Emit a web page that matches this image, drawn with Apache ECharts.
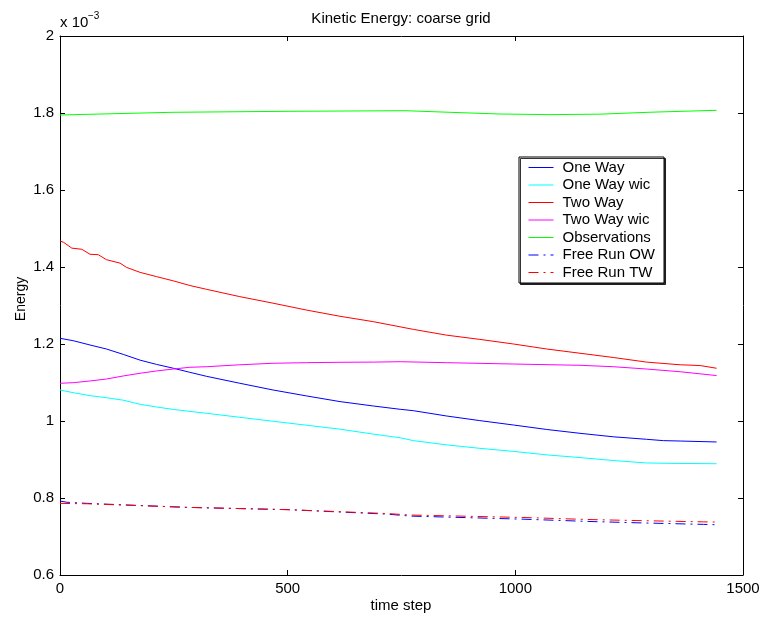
<!DOCTYPE html>
<html>
<head>
<meta charset="utf-8">
<script src="https://cdn.jsdelivr.net/npm/echarts@6/dist/echarts.min.js"></script>
<style>
html,body{margin:0;padding:0;background:#fff;}
#c{width:763px;height:618px;}
</style>
</head>
<body>
<div id="c"></div>
<script>
// Values in units of 1e-3 (as shown by the "x 10^-3" axis multiplier)
var xTicks = [0, 500, 1000, 1500];
var yTicks = [0.6, 0.8, 1, 1.2, 1.4, 1.6, 1.8, 2];

var oneWayT = [0, 29, 66, 102, 139, 176, 212, 249, 285, 322, 395, 468, 542, 615, 688, 747, 776, 849, 922, 996, 1069, 1142, 1215, 1288, 1325, 1362, 1442];
var oneWayV = [1.2148, 1.2086, 1.1974, 1.187, 1.173, 1.158, 1.147, 1.137, 1.1265, 1.116, 1.098, 1.0805, 1.065, 1.0504, 1.039, 1.0304, 1.0268, 1.013, 1.001, 0.9896, 0.978, 0.968, 0.959, 0.9525, 0.949, 0.948, 0.9455];

var oneWayWicT = [0, 29, 66, 102, 139, 176, 212, 249, 322, 395, 468, 542, 615, 688, 747, 776, 849, 922, 996, 1069, 1142, 1215, 1288, 1340, 1442];
var oneWayWicV = [1.0805, 1.0736, 1.0658, 1.0605, 1.054, 1.0434, 1.0364, 1.030, 1.020, 1.0096, 0.9993, 0.989, 0.9787, 0.966, 0.9565, 0.949, 0.938, 0.929, 0.921, 0.912, 0.905, 0.8974, 0.891, 0.890, 0.889];

var twoWayT = [0, 8, 26, 48, 66, 84, 102, 132, 146, 176, 212, 249, 285, 322, 395, 468, 542, 615, 688, 776, 849, 922, 996, 1069, 1142, 1215, 1288, 1362, 1406, 1442];
var twoWayV = [1.4675, 1.464, 1.449, 1.446, 1.433, 1.432, 1.419, 1.41, 1.399, 1.386, 1.375, 1.364, 1.352, 1.342, 1.323, 1.306, 1.288, 1.272, 1.258, 1.238, 1.223, 1.212, 1.2, 1.187, 1.176, 1.165, 1.153, 1.146, 1.144, 1.137];

var twoWayWicT = [0, 29, 66, 102, 139, 176, 212, 249, 285, 322, 395, 468, 542, 615, 688, 747, 849, 996, 1142, 1215, 1288, 1362, 1442];
var twoWayWicV = [1.098, 1.0995, 1.104, 1.109, 1.117, 1.124, 1.130, 1.135, 1.1395, 1.141, 1.146, 1.150, 1.1515, 1.1525, 1.153, 1.154, 1.1515, 1.148, 1.1447, 1.141, 1.135, 1.128, 1.118];

var obsT = [0, 246, 501, 758, 856, 966, 1076, 1186, 1296, 1442];
var obsV = [1.7948, 1.8018, 1.8044, 1.806, 1.8018, 1.7974, 1.7957, 1.797, 1.802, 1.807];

var freeOWT = [0, 15, 60, 281, 501, 720, 769, 1017, 1164, 1267, 1413, 1442];
var freeOWV = [0.792, 0.789, 0.786, 0.7756, 0.7697, 0.758, 0.753, 0.745, 0.739, 0.7356, 0.7315, 0.7305];

var freeTWT = [0, 60, 281, 501, 720, 769, 1017, 1164, 1267, 1413, 1442];
var freeTWV = [0.786, 0.785, 0.7756, 0.7697, 0.7595, 0.7558, 0.7494, 0.744, 0.7414, 0.738, 0.7375];

function pairs(t, v) { return t.map(function (x, i) { return [x, v[i]]; }); }

var FONT = 'Liberation Sans, Arial, Helvetica, sans-serif';
var dashDot = [10, 5, 2, 5];

function mk(name, t, v, color, dash) {
  return {
    name: name, type: 'line', data: pairs(t, v), showSymbol: false, symbol: 'none',
    xAxisIndex: 0, yAxisIndex: 0,
    lineStyle: { color: color, width: 1, type: dash || 'solid' },
    itemStyle: { color: color },
    emphasis: { disabled: true }, animation: false
  };
}

var chart = echarts.init(document.getElementById('c'), null, { renderer: 'canvas' });

function axisCommon() {
  return {
    axisLine: { show: true, onZero: false, lineStyle: { color: '#000', width: 1 } },
    axisTick: { show: true, inside: true, length: 5, lineStyle: { color: '#000' } },
    splitLine: { show: false }
  };
}

chart.setOption({
  animation: false,
  backgroundColor: '#fff',
  textStyle: { fontFamily: FONT },
  grid: { left: 60, right: 20, top: 36, bottom: 43, containLabel: false },
  xAxis: [
    Object.assign({ type: 'value', min: xTicks[0], max: xTicks[xTicks.length - 1], interval: 500, position: 'bottom',
      axisLabel: { color: '#000', fontSize: 15, fontFamily: FONT, margin: 6,
        formatter: function (v) { return String(v); } } }, axisCommon()),
    Object.assign({ type: 'value', min: xTicks[0], max: xTicks[xTicks.length - 1], interval: 500, position: 'top',
      axisLabel: { show: false } }, axisCommon())
  ],
  yAxis: [
    Object.assign({ type: 'value', min: yTicks[0], max: yTicks[yTicks.length - 1], interval: 0.2, position: 'left',
      axisLabel: { color: '#000', fontSize: 15, fontFamily: FONT, margin: 6,
        formatter: function (v) { return String(Math.round(v * 10) / 10); } } }, axisCommon()),
    Object.assign({ type: 'value', min: yTicks[0], max: yTicks[yTicks.length - 1], interval: 0.2, position: 'right',
      axisLabel: { show: false } }, axisCommon())
  ],
  legend: {
    orient: 'vertical', left: 519, top: 157,
    padding: [3, 9, 3, 9],
    itemWidth: 25, itemHeight: 8, itemGap: 2.5,
    itemStyle: { opacity: 0 },
    lineStyle: { width: 1 },
    backgroundColor: '#fff', borderColor: '#000', borderWidth: 1,
    shadowColor: 'rgba(0,0,0,0.8)', shadowOffsetX: 1.5, shadowOffsetY: 1.5, shadowBlur: 0,
    textStyle: { color: '#000', fontSize: 15, fontFamily: FONT, lineHeight: 15, padding: [0, 0, 0, 4] },
    selectedMode: false,
    data: ['One Way', 'One Way wic', 'Two Way', 'Two Way wic', 'Observations', 'Free Run OW', 'Free Run TW']
  },
  graphic: [
    { type: 'text', x: 401, y: 19, style: { text: 'Kinetic Energy: coarse grid', font: '15px ' + FONT, fill: '#000', align: 'center', verticalAlign: 'middle' } },
    { type: 'text', x: 60, y: 23, style: { text: 'x 10', font: '15px ' + FONT, fill: '#000', align: 'left', verticalAlign: 'middle' } },
    { type: 'text', x: 88, y: 16, style: { text: '\u22123', font: '10px ' + FONT, fill: '#000', align: 'left', verticalAlign: 'middle' } },
    { type: 'text', x: 401, y: 606, style: { text: 'time step', font: '15px ' + FONT, fill: '#000', align: 'center', verticalAlign: 'middle' } },
    { type: 'text', x: 21, y: 299, rotation: Math.PI / 2, style: { text: 'Energy', font: '14px ' + FONT, fill: '#000', align: 'center', verticalAlign: 'middle' } }
  ],
  series: [
    mk('One Way', oneWayT, oneWayV, '#0000ff'),
    mk('One Way wic', oneWayWicT, oneWayWicV, '#00ffff'),
    mk('Two Way', twoWayT, twoWayV, '#ff0000'),
    mk('Two Way wic', twoWayWicT, twoWayWicV, '#ff00ff'),
    mk('Observations', obsT, obsV, '#00ff00'),
    mk('Free Run OW', freeOWT, freeOWV, '#0000ff', dashDot),
    mk('Free Run TW', freeTWT, freeTWV, '#ff0000', dashDot)
  ]
});
</script>
</body>
</html>
